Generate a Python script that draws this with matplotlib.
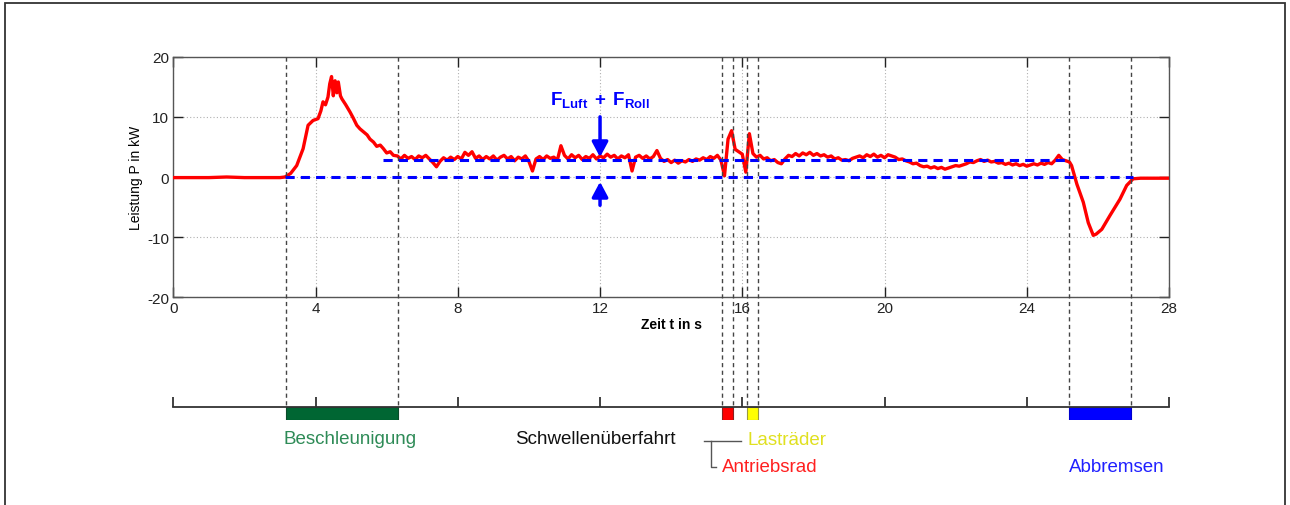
import numpy as np
import matplotlib
matplotlib.use("Agg")
import matplotlib.pyplot as plt
from matplotlib.lines import Line2D
from matplotlib.patches import Rectangle
from matplotlib.transforms import blended_transform_factory

plt.rcParams['font.family'] = ['Liberation Sans', 'DejaVu Sans']
plt.rcParams['mathtext.fontset'] = 'custom'
plt.rcParams['mathtext.rm'] = 'Liberation Sans'
plt.rcParams['mathtext.bf'] = 'Liberation Sans:bold'
plt.rcParams['mathtext.it'] = 'Liberation Sans:italic'
plt.rcParams['axes.unicode_minus'] = False

# ---------------- data ----------------
ramp_t = [0.0, 0.5, 1.0, 1.5, 2.0, 2.5, 3.0,
          3.14, 3.3, 3.47, 3.65, 3.79, 3.93, 4.07,
          4.15, 4.21, 4.28, 4.35, 4.40, 4.45, 4.50, 4.55, 4.60, 4.64,
          4.70, 4.74, 4.85, 4.97, 5.06, 5.16, 5.25, 5.35, 5.45, 5.53,
          5.63, 5.72, 5.82, 5.91, 6.0, 6.1, 6.19]
ramp_p = [-0.1, -0.1, -0.1, 0.0, -0.1, -0.1, -0.1,
          0.0, 0.6, 1.9, 4.7, 8.6, 9.4, 9.7,
          11.0, 12.5, 12.0, 13.3, 15.5, 16.7, 13.5, 16.0, 14.0, 15.8,
          13.5, 13.0, 12.0, 10.8, 9.8, 8.6, 8.0, 7.5, 7.0, 6.3,
          5.8, 5.1, 5.3, 4.7, 4.0, 4.2, 3.6]

plateau_start = 6.3
plateau_step = 0.1
plateau_p = [3.5, 3.0, 3.6, 3.1, 3.4, 2.9, 3.5, 3.2, 3.6, 3.0,
             2.4, 1.7, 2.6, 3.2, 2.8, 3.3, 2.9, 3.4, 3.0, 4.1,
             3.6, 4.2, 3.1, 3.5, 2.9, 3.4, 3.0, 3.5, 2.8, 3.3,
             3.6, 3.0, 3.4, 2.7, 3.3, 3.0, 3.5, 2.6, 1.0, 3.0,
             3.4, 2.9, 3.5, 3.1, 3.3, 2.8, 5.2, 3.6, 3.0, 3.7,
             3.2, 3.6, 2.9, 3.4, 3.1, 3.7, 3.0, 3.5, 3.2, 3.8,
             3.3, 3.6, 3.0, 3.5, 3.2, 3.7, 1.0, 3.3, 3.6, 3.1,
             3.5, 3.0, 3.4, 4.4, 3.1, 2.6, 2.9, 2.4, 2.8, 2.3,
             2.7, 2.5, 2.9, 2.6, 3.0, 2.8, 3.2, 2.9, 3.4, 3.1,
             3.6, 2.8, 0.2, 6.3, 7.7, 4.6, 4.2, 3.8, 0.8, 7.2,
             3.9, 3.3, 3.6, 3.0, 3.2, 2.7, 2.9, 2.4, 2.2, 3.0,
             3.6, 3.4, 3.9, 3.5, 4.0, 3.7, 4.1, 3.6, 3.9, 3.5,
             3.7, 3.3, 3.5, 3.0, 3.2, 2.8, 2.9, 2.7, 3.1, 3.3,
             3.5, 3.2, 3.7, 3.4, 3.8, 3.3, 3.6, 3.2, 3.7, 3.5,
             3.3, 2.9, 3.0, 2.7, 2.5, 2.2, 2.3, 1.9, 1.7, 1.8,
             1.5, 1.7, 1.4, 1.6, 1.3, 1.5, 1.7, 1.9, 1.8, 2.0,
             2.2, 2.5, 2.4, 2.7, 2.9, 2.6, 2.8, 2.5, 2.6, 2.3,
             2.4, 2.1, 2.3, 2.0, 2.2, 1.9, 2.1, 1.8, 2.0, 2.2,
             2.0, 2.3, 2.1, 2.4, 2.2, 2.8, 3.6, 2.9, 2.7]

brake_t = [25.2, 25.26, 25.41, 25.59, 25.73, 25.87, 25.95, 26.11, 26.34,
           26.62, 26.81, 26.99, 27.2, 27.5, 28.0]
brake_p = [2.5, 1.9, -1.2, -4.2, -7.6, -9.7, -9.5, -8.7, -6.4,
           -3.7, -1.4, -0.3, -0.2, -0.2, -0.2]

# reference lines (blue dashed)
ref_level = 2.9
ref_start, ref_end = 5.9, 25.15
zero_start, zero_end = 3.14, 27.0

# event markers (vertical dashed lines)
marker_times = [3.16, 6.32, 15.44, 15.75, 16.14, 16.44, 25.18, 26.93]

# phases on the timeline
phase_names = ['Beschleunigung', 'Antriebsrad', 'Lasträder', 'Abbremsen']
phase_start = [3.16, 15.44, 16.14, 25.18]
phase_end = [6.32, 15.75, 16.44, 26.93]
phase_colors = ['#006633', '#ff0000', '#ffff00', '#0000ff']
phase_edges = ['#0a4a2a', '#8a2020', '#9a9a40', '#0000cc']

xticks = [0, 4, 8, 12, 16, 20, 24, 28]
yticks = [-20, -10, 0, 10, 20]

# arrows
arrow_t = 12
arrow_down = (10.0, 3.3)
arrow_up = (-4.7, -0.8)

# ---------------- figure ----------------
W, H = 1290, 506
fig = plt.figure(figsize=(W / 100, H / 100), dpi=100)

def fy(px):
    return 1 - px / H

ax_left, ax_right = 173.3 / W, 1169 / W
ax = fig.add_axes([ax_left, fy(298.3), ax_right - ax_left, fy(57.7) - fy(298.3)])

t = np.concatenate([ramp_t,
                    plateau_start + plateau_step * np.arange(len(plateau_p)),
                    brake_t])
p = np.concatenate([ramp_p, plateau_p, brake_p])

ax.plot([zero_start, zero_end], [0, 0], color='#0000ff', lw=2.2,
        ls=(0, (3, 2)), zorder=4)
ax.plot([ref_start, ref_end], [ref_level, ref_level], color='#0000ff',
        lw=2.2, ls=(0, (3, 2)), zorder=4)
ax.plot(t, p, color='#ff0000', lw=2.4, zorder=3)

ax.set_xlim(0, 28)
ax.set_ylim(-20, 20)
ax.set_xticks(xticks)
ax.set_yticks(yticks)
ax.grid(True, color='#b0b0b0', ls=(0, (1, 2)), lw=0.8)
ax.tick_params(direction='in', length=7, width=1, top=True, right=True,
               labelsize=11, colors='#222222', pad=3)
for s in ax.spines.values():
    s.set_color('#555555')
    s.set_linewidth(1.0)
ax.set_ylabel('Leistung P in kW', fontsize=10, labelpad=3)
ax.set_xlabel('Zeit t in s', fontsize=10, labelpad=1, fontweight='semibold')

# arrows
ax.annotate('', xy=(arrow_t, arrow_down[1]), xytext=(arrow_t, arrow_down[0]),
            arrowprops=dict(arrowstyle='-|>,head_length=0.75,head_width=0.4',
                            color='#0000ff', lw=2.5, mutation_scale=12,
                            shrinkA=0, shrinkB=0), zorder=5)
ax.annotate('', xy=(arrow_t, arrow_up[1]), xytext=(arrow_t, arrow_up[0]),
            arrowprops=dict(arrowstyle='-|>,head_length=0.75,head_width=0.4',
                            color='#0000ff', lw=2.5, mutation_scale=12,
                            shrinkA=0, shrinkB=0), zorder=5)
ax.text(arrow_t, 13.0, r'$\mathbf{F_{Luft}\;+\;F_{Roll}}$', color='#0000ff',
        fontsize=13.5, ha='center', va='center')

# timeline axes
ax2 = fig.add_axes([ax_left, fy(421), ax_right - ax_left, fy(398) - fy(421)])
ax2.set_xlim(0, 28)
ax2.set_ylim(-13, 10)
ax2.axis('off')
ax2.plot([0, 28], [0, 0], color='#333333', lw=1.3, clip_on=False)
ax2.vlines(xticks, 0, 10, color='#333333', lw=1.3, clip_on=False)
for s0, s1, c, e in zip(phase_start, phase_end, phase_colors, phase_edges):
    ax2.bar(s0, -13, width=s1 - s0, bottom=0, align='edge', color=c,
            edgecolor=e, lw=0.8)

# vertical dashed markers spanning both axes
trans = blended_transform_factory(ax.transData, fig.transFigure)
for mt in marker_times:
    fig.add_artist(Line2D([mt, mt], [fy(57.7), fy(408)], transform=trans,
                          color='#444444', lw=1.0, ls=(0, (3, 2.5)), zorder=2))

# phase labels
tr2 = blended_transform_factory(ax2.transData, fig.transFigure)
fig.text(3.1, fy(440), 'Beschleunigung', transform=tr2, color='#2e8b57',
         fontsize=13.5, ha='left', va='center')
fig.text(9.61, fy(440), 'Schwellenüberfahrt', transform=tr2, color='#111111',
         fontsize=13.5, ha='left', va='center')
fig.text(16.16, fy(441), 'Lasträder', transform=tr2, color='#e0e020',
         fontsize=13.5, ha='left', va='center')
fig.text(15.42, fy(468), 'Antriebsrad', transform=tr2, color='#ff2020',
         fontsize=13.5, ha='left', va='center')
fig.text(25.18, fy(468), 'Abbremsen', transform=tr2, color='#2020ff',
         fontsize=13.5, ha='left', va='center')

# bracket
fig.add_artist(Line2D([14.92, 15.96], [fy(442), fy(442)], transform=tr2,
                      color='#555555', lw=1.0))
fig.add_artist(Line2D([15.11, 15.11, 15.26], [fy(442), fy(468), fy(468)],
                      transform=tr2, color='#555555', lw=1.0))

# outer frame
fig.add_artist(Rectangle((5 / W, -0.02), 1280 / W, 1.02 - 4 / H,
                         transform=fig.transFigure, fill=False,
                         edgecolor='#333333', lw=1.3))

fig.savefig('out.png', dpi=100)
